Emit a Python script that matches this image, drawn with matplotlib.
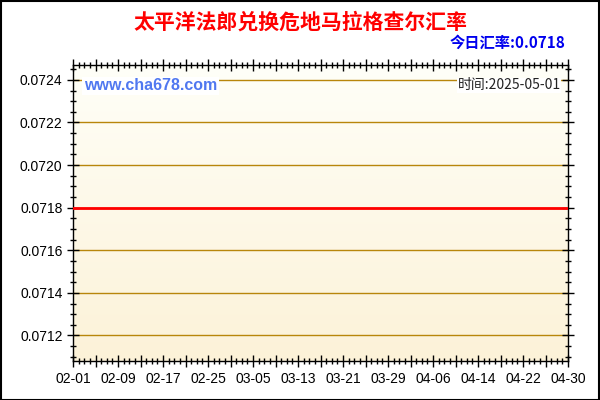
import numpy as np
import pandas as pd
import matplotlib
matplotlib.use('Agg')
import matplotlib.pyplot as plt
import matplotlib.dates as mdates
from matplotlib.ticker import MultipleLocator

plt.rcParams['font.family'] = ['Liberation Sans', 'Noto Sans CJK SC', 'DejaVu Sans']

title = '太平洋法郎兑换危地马拉格查尔汇率'
today_text = '今日汇率:0.0718'
site = 'www.cha678.com'
time_text = '时间:2025-05-01'

dates = pd.date_range('2025-02-01', '2025-04-30', freq='D')
rates = [
    0.0718, 0.0718, 0.0718, 0.0718, 0.0718, 0.0718, 0.0718, 0.0718, 0.0718, 0.0718,
    0.0718, 0.0718, 0.0718, 0.0718, 0.0718, 0.0718, 0.0718, 0.0718, 0.0718, 0.0718,
    0.0718, 0.0718, 0.0718, 0.0718, 0.0718, 0.0718, 0.0718, 0.0718, 0.0718, 0.0718,
    0.0718, 0.0718, 0.0718, 0.0718, 0.0718, 0.0718, 0.0718, 0.0718, 0.0718, 0.0718,
    0.0718, 0.0718, 0.0718, 0.0718, 0.0718, 0.0718, 0.0718, 0.0718, 0.0718, 0.0718,
    0.0718, 0.0718, 0.0718, 0.0718, 0.0718, 0.0718, 0.0718, 0.0718, 0.0718, 0.0718,
    0.0718, 0.0718, 0.0718, 0.0718, 0.0718, 0.0718, 0.0718, 0.0718, 0.0718, 0.0718,
    0.0718, 0.0718, 0.0718, 0.0718, 0.0718, 0.0718, 0.0718, 0.0718, 0.0718, 0.0718,
    0.0718, 0.0718, 0.0718, 0.0718, 0.0718, 0.0718, 0.0718, 0.0718, 0.0718,
]
tick_dates = pd.date_range('2025-02-01', '2025-04-30', freq='4D')

fig = plt.figure(figsize=(6, 4), dpi=100)
fig.patch.set_facecolor('white')
fig.patches.append(plt.Rectangle((0.001, 0.001), 0.998, 0.997, transform=fig.transFigure,
                                 fill=False, edgecolor='black', linewidth=1.5))
ax = fig.add_axes([0.1217, 0.0975, 0.825, 0.74])

x0, x1 = mdates.date2num(dates[0]), mdates.date2num(dates[-1])
y0, y1 = 0.07108, 0.07247
# fond degrade: blanc en haut -> jaune pale en bas
grad = np.linspace(0, 1, 256).reshape(-1, 1)
top_c = np.array([255, 255, 248]) / 255
bot_c = np.array([252, 242, 216]) / 255
img = top_c + (bot_c - top_c) * grad[..., None]
ax.imshow(img, extent=[x0, x1, y0, y1], origin='upper', aspect='auto', zorder=0)

ax.set_xlim(x0, x1)
ax.set_ylim(y0, y1)

ax.yaxis.set_major_locator(MultipleLocator(0.0002))
ax.yaxis.set_minor_locator(MultipleLocator(0.00005))
ax.yaxis.set_major_formatter(plt.FormatStrFormatter('%.4f'))
ax.grid(axis='y', which='major', color='#B8860B', linewidth=1, zorder=1)

ax.xaxis.set_minor_locator(mdates.DayLocator())
ax.set_xticks(mdates.date2num(tick_dates))
ax.set_xticklabels([d.strftime('%m-%d') if i % 2 == 0 else ''
                    for i, d in enumerate(tick_dates)])

ax.tick_params(axis='both', which='major', direction='inout', length=8, width=1,
               labelsize=10, colors='black', top=True, right=True)
ax.tick_params(axis='both', which='minor', direction='inout', length=5, width=1,
               top=True, right=True)
ax.tick_params(axis='x', which='major', pad=4)
for sp in ax.spines.values():
    sp.set_linewidth(1)

ax.plot(dates, rates, color='red', linewidth=2, zorder=3)

fig.text(0.5, 0.945, title, ha='center', va='center', color='red', fontsize=15,
         fontweight='heavy', family=['Noto Sans CJK SC', 'DejaVu Sans'])
fig.text(0.943, 0.893, today_text, ha='right', va='center', color='#0000EE', fontsize=11,
         fontweight='bold', family=['Noto Sans CJK SC', 'DejaVu Sans'])
ax.text(0.022, 0.955, site, transform=ax.transAxes, ha='left', va='top', color='#5078F0',
        fontsize=11.5, fontweight='bold', zorder=4,
        bbox=dict(facecolor='white', edgecolor='none', pad=1))
ax.text(0.985, 0.955, time_text, transform=ax.transAxes, ha='right', va='top', color='#222222',
        fontsize=10, zorder=4, family=['Noto Sans CJK SC', 'DejaVu Sans'],
        bbox=dict(facecolor='white', edgecolor='none', pad=0.5))

fig.savefig('out.png', dpi=100)
